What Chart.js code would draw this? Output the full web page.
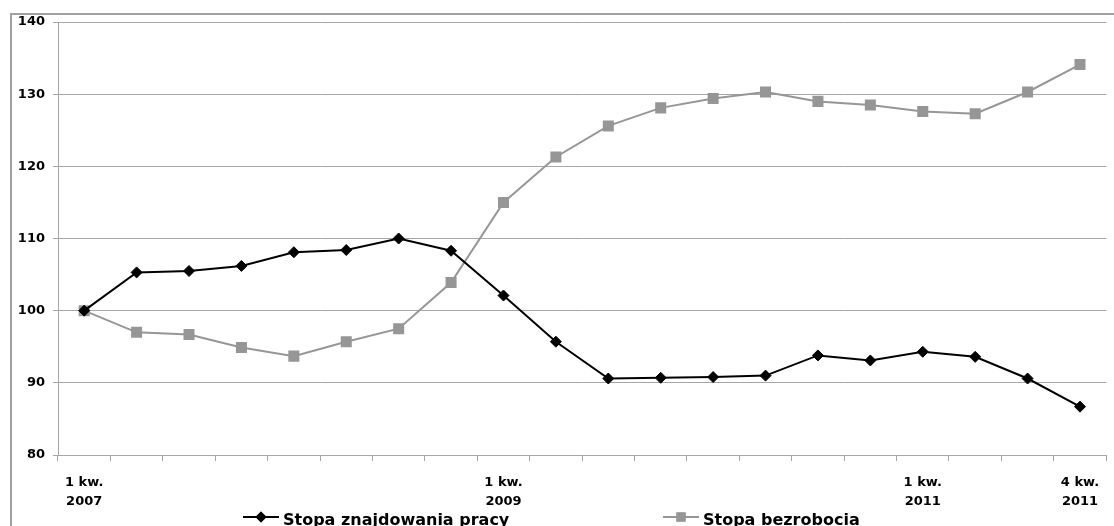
<!DOCTYPE html>
<html>
<head>
<meta charset="utf-8">
<script src="https://cdn.jsdelivr.net/npm/chart.js@4/dist/chart.umd.min.js"></script>
<style>
  html,body{margin:0;padding:0;background:#fff;}
  #wrap{position:relative;width:1114px;height:526px;}
</style>
</head>
<body>
<div id="wrap"><canvas id="chart" width="1114" height="526"></canvas></div>
<script>
// ===== DATA =====
const quarters = [
  "1 kw. 2007","2 kw. 2007","3 kw. 2007","4 kw. 2007",
  "1 kw. 2008","2 kw. 2008","3 kw. 2008","4 kw. 2008",
  "1 kw. 2009","2 kw. 2009","3 kw. 2009","4 kw. 2009",
  "1 kw. 2010","2 kw. 2010","3 kw. 2010","4 kw. 2010",
  "1 kw. 2011","2 kw. 2011","3 kw. 2011","4 kw. 2011"
];
const shownTicks = [0, 8, 16, 19];

const jobFinding = [100, 105.3, 105.5, 106.2, 108.1, 108.4, 110.0, 108.3, 102.1, 95.7,
                    90.6, 90.7, 90.8, 91.0, 93.8, 93.1, 94.3, 93.6, 90.6, 86.7];
const unemployment = [100, 97.0, 96.7, 94.9, 93.7, 95.7, 97.5, 103.9, 115.0, 121.3,
                      125.6, 128.1, 129.4, 130.3, 129.0, 128.5, 127.6, 127.3, 130.3, 134.1];

const seriesNames = ["Stopa znajdowania pracy", "Stopa bezrobocia"];

const BLACK = "#000000";
const GREY = "#969696";
const GRID = "#a6a6a6";
const FONT = "'DejaVu Sans', Verdana, sans-serif";

// "1 kw. 2007" -> ["1 kw.", "2007"]
function splitQuarter(s){
  let i = s.lastIndexOf(" ");
  return [s.slice(0, i), s.slice(i+1)];
}

// ===== FRAME + LEGEND =====
const framePlugin = {
  id: "frame",
  beforeDraw(c){
    const ctx = c.ctx;
    ctx.save();
    ctx.strokeStyle = "#a0a0a0";
    ctx.lineWidth = 2;
    ctx.beginPath();
    ctx.moveTo(11, 530);
    ctx.lineTo(11, 14);
    ctx.lineTo(1120, 14);
    ctx.stroke();
    ctx.restore();
  },
  afterDraw(c){
    const ctx = c.ctx;
    const y = 517;
    const items = [
      {x:243, color:BLACK, style:"rectRot", r:5.5, text:seriesNames[0]},
      {x:663, color:GREY, style:"rect", r:6.5, text:seriesNames[1]}
    ];
    ctx.save();
    items.forEach(it=>{
      ctx.strokeStyle = it.color;
      ctx.lineWidth = 2;
      ctx.beginPath();
      ctx.moveTo(it.x, y);
      ctx.lineTo(it.x+36, y);
      ctx.stroke();
      ctx.fillStyle = it.color;
      Chart.helpers.drawPoint(ctx, {pointStyle:it.style, radius:it.r, borderWidth:0}, it.x+18, y);
      ctx.fill();
      ctx.fillStyle = "#000";
      ctx.font = "bold 16px " + FONT;
      ctx.textBaseline = "alphabetic";
      ctx.fillText(it.text, it.x+40, y+8);
    });
    ctx.restore();
  }
};

// ===== CHART =====
const ctx = document.getElementById("chart").getContext("2d");

new Chart(ctx, {
  type: "line",
  data: {
    labels: quarters,
    datasets: [
      {
        label: seriesNames[0],
        data: jobFinding,
        borderColor: BLACK,
        backgroundColor: BLACK,
        borderWidth: 2,
        pointStyle: "rectRot",
        pointRadius: 5.5,
        pointBorderWidth: 1,
        tension: 0
      },
      {
        label: seriesNames[1],
        data: unemployment,
        borderColor: GREY,
        backgroundColor: GREY,
        borderWidth: 2,
        pointStyle: "rect",
        pointRadius: 7.8,
        pointBorderWidth: 0,
        tension: 0
      }
    ]
  },
  options: {
    responsive: false,
    animation: false,
    layout: {padding: {left: 0, top: 22, right: 5, bottom: 0}},
    plugins: {legend: {display: false}, tooltip: {enabled: false}},
    scales: {
      x: {
        offset: true,
        grid: {display: true, drawOnChartArea: false, offset: true, tickLength: 6, color: GRID},
        border: {color: GRID, width: 1},
        ticks: {
          autoSkip: false,
          maxRotation: 0,
          padding: 13,
          color: "#000",
          font: {family: FONT, weight: "bold", size: 13, lineHeight: 1.4},
          callback(v, i){
            return shownTicks.includes(i) ? splitQuarter(quarters[i]) : "";
          }
        },
        afterFit(s){ s.height = 71; }
      },
      y: {
        min: 80,
        max: 140,
        ticks: {stepSize: 10, padding: 8, color: "#000", font: {family: FONT, weight: "bold", size: 13}},
        grid: {color: GRID, tickLength: 5},
        border: {color: GRID, width: 1},
        afterFit(s){ s.width = 58; }
      }
    }
  },
  plugins: [framePlugin]
});
</script>
</body>
</html>
